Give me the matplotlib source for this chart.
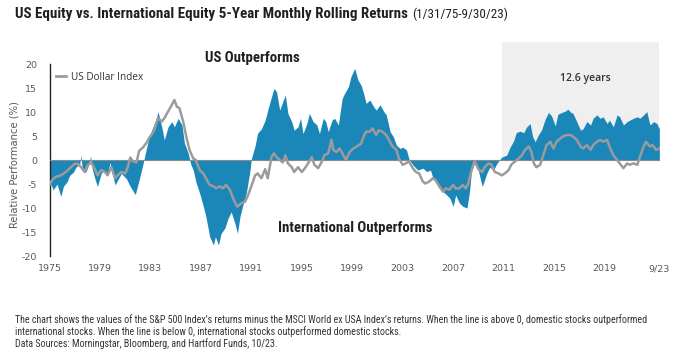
import matplotlib
matplotlib.use("Agg")
import matplotlib.pyplot as plt
from matplotlib.lines import Line2D
from matplotlib import font_manager

# ---------------- data ----------------
rel_years = [
    1975.0, 1975.3, 1975.6, 1975.9, 1976.1, 1976.4, 1976.6, 1976.9, 1977.1, 1977.4,
    1977.5, 1977.6, 1977.9, 1978.1, 1978.25, 1978.4, 1978.6, 1978.8, 1979.1, 1979.3,
    1979.6, 1979.8, 1979.9, 1980.2, 1980.4, 1980.7, 1981.1, 1981.4, 1981.8, 1982.1,
    1982.3, 1982.5, 1982.7, 1982.9, 1983.2, 1983.45, 1983.6, 1983.9, 1984.1, 1984.4,
    1984.7, 1984.9, 1985.2, 1985.5, 1985.7, 1986.0, 1986.2, 1986.4, 1986.6, 1986.9,
    1987.2, 1987.4, 1987.7, 1988.0, 1988.15, 1988.4, 1988.6, 1988.9, 1989.15, 1989.4,
    1989.7, 1989.9, 1990.1, 1990.3, 1990.6, 1990.9, 1991.0, 1991.3, 1991.5, 1991.8,
    1992.1, 1992.3, 1992.6, 1992.8, 1993.0, 1993.25, 1993.5, 1993.7, 1993.9, 1994.2,
    1994.4, 1994.7, 1994.9, 1995.1, 1995.4, 1995.6, 1995.9, 1996.2, 1996.4, 1996.7,
    1996.9, 1997.1, 1997.4, 1997.6, 1997.9, 1998.2, 1998.4, 1998.7, 1998.9, 1999.2,
    1999.45, 1999.7, 1999.9, 2000.1, 2000.4, 2000.7, 2000.9, 2001.2, 2001.5, 2001.7,
    2002.0, 2002.25, 2002.5, 2002.8, 2003.0, 2003.3, 2003.5, 2003.8, 2004.2, 2004.6,
    2004.9, 2005.2, 2005.4, 2005.7, 2006.0, 2006.2, 2006.5, 2006.75, 2007.0, 2007.2,
    2007.5, 2007.8, 2008.1, 2008.3, 2008.45, 2008.7, 2009.0, 2009.3, 2009.45, 2009.65,
    2009.9, 2010.2, 2010.45, 2010.7, 2010.85, 2011.25, 2011.5, 2011.8, 2012.0, 2012.3,
    2012.6, 2012.8, 2013.1, 2013.3, 2013.5, 2013.75, 2014.0, 2014.3, 2014.55, 2014.8,
    2015.1, 2015.3, 2015.6, 2015.9, 2016.1, 2016.3, 2016.5, 2016.8, 2017.1, 2017.3,
    2017.6, 2017.9, 2018.1, 2018.4, 2018.65, 2018.9, 2019.2, 2019.4, 2019.7, 2020.0,
    2020.2, 2020.5, 2020.8, 2021.0, 2021.3, 2021.6, 2021.8, 2022.1, 2022.35, 2022.6,
    2022.9, 2023.15, 2023.35,
]
rel_values = [
    -4.5, -6.2, -5.0, -7.6, -5.5, -4.5, -3.2, -2.5, -1.5, -0.8,
    1.0, -2.2, -2.5, -1.0, 0.8, -2.0, -3.9, -5.5, -2.8, -2.1,
    -3.2, -0.5, -2.0, -5.2, -4.2, -2.8, -3.9, -5.5, -7.2, -4.2,
    -2.1, 0.2, 2.6, 4.8, 6.9, 8.5, 10.1, 6.9, 4.2, 6.9,
    8.0, 6.9, 8.7, 7.3, 3.5, 1.4, -0.9, -2.1, -4.5, -6.9,
    -9.7, -11.8, -16.0, -17.7, -16.0, -17.7, -15.3, -14.2, -12.2, -10.8,
    -13.2, -15.3, -11.8, -9.7, -6.9, -2.1, 0.2, 3.0, 5.6, 6.5,
    8.3, 10.4, 13.2, 14.9, 14.2, 10.4, 12.2, 13.5, 9.7, 8.0,
    6.2, 6.9, 8.7, 5.5, 7.6, 9.7, 8.0, 7.3, 5.5, 8.7,
    8.0, 5.9, 8.3, 8.7, 7.3, 12.8, 13.9, 15.3, 17.4, 19.1,
    16.7, 15.6, 13.9, 11.8, 12.5, 11.1, 10.4, 11.5, 10.1, 9.4,
    5.9, 4.9, 3.1, 2.4, 2.7, 2.1, 0.2, -1.0, -2.1, -1.7,
    -2.4, -2.1, -3.8, -4.5, -5.5, -6.6, -7.3, -8.0, -9.7, -7.3,
    -9.0, -9.7, -10.0, -6.5, -2.5, -0.5, -2.2, -5.5, -4.5, -2.9,
    -1.5, -2.1, -0.8, 0.1, 0.6, 1.0, 2.6, 4.0, 5.7, 6.0,
    5.7, 6.8, 7.6, 4.9, 3.8, 5.2, 6.2, 8.5, 9.9, 9.2,
    7.1, 9.5, 9.9, 10.2, 10.6, 10.0, 9.7, 8.0, 6.2, 6.5,
    8.0, 7.3, 8.7, 9.4, 8.7, 9.0, 7.6, 8.3, 6.9, 9.4,
    9.0, 7.3, 8.0, 8.3, 8.7, 9.0, 8.7, 9.4, 10.1, 7.3,
    8.0, 7.6, 6.5,
]

usd_years = [
    1975.0, 1975.2, 1975.5, 1975.9, 1976.3, 1976.7, 1977.0, 1977.25, 1977.5, 1977.8,
    1978.0, 1978.3, 1978.6, 1978.8, 1979.1, 1979.4, 1979.6, 1979.9, 1980.2, 1980.4,
    1980.7, 1981.0, 1981.2, 1981.4, 1981.6, 1981.9, 1982.1, 1982.4, 1982.7, 1982.9,
    1983.2, 1983.3, 1983.6, 1983.9, 1984.1, 1984.4, 1984.7, 1984.9, 1985.1, 1985.3,
    1985.6, 1985.85, 1986.1, 1986.4, 1986.6, 1986.9, 1987.2, 1987.4, 1987.7, 1988.0,
    1988.2, 1988.5, 1988.75, 1989.0, 1989.3, 1989.5, 1989.8, 1989.9, 1990.2, 1990.5,
    1990.7, 1991.0, 1991.3, 1991.5, 1991.8, 1992.1, 1992.3, 1992.6, 1992.8, 1993.0,
    1993.25, 1993.5, 1993.7, 1993.9, 1994.2, 1994.4, 1994.7, 1995.0, 1995.2, 1995.5,
    1995.8, 1996.0, 1996.3, 1996.6, 1996.8, 1997.1, 1997.35, 1997.5, 1997.75, 1998.0,
    1998.3, 1998.5, 1998.8, 1999.1, 1999.3, 1999.7, 1999.9, 2000.1, 2000.4, 2000.6,
    2000.9, 2001.1, 2001.4, 2001.7, 2001.9, 2002.2, 2002.5, 2002.7, 2003.0, 2003.25,
    2003.5, 2003.8, 2004.05, 2004.3, 2004.6, 2004.8, 2005.1, 2005.4, 2005.6, 2005.9,
    2006.2, 2006.4, 2006.7, 2007.0, 2007.2, 2007.5, 2007.75, 2008.0, 2008.2, 2008.45,
    2008.7, 2009.0, 2009.3, 2009.5, 2009.8, 2010.05, 2010.3, 2010.6, 2010.85, 2011.1,
    2011.4, 2011.6, 2011.9, 2012.2, 2012.45, 2012.7, 2013.0, 2013.2, 2013.4, 2013.6,
    2013.9, 2014.15, 2014.4, 2014.7, 2014.95, 2015.2, 2015.5, 2015.7, 2016.0, 2016.3,
    2016.5, 2016.8, 2017.1, 2017.3, 2017.6, 2017.9, 2018.1, 2018.4, 2018.65, 2018.9,
    2019.2, 2019.4, 2019.7, 2020.0, 2020.2, 2020.5, 2020.8, 2021.0, 2021.3, 2021.6,
    2021.8, 2022.1, 2022.3, 2022.6, 2022.8, 2023.1, 2023.35,
]
usd_values = [
    -5.2, -4.2, -3.5, -3.2, -2.5, -1.5, -0.8, -0.8, -1.5, -2.5,
    -1.2, -0.5, -1.9, -3.2, -2.1, -2.5, -3.2, -1.5, -3.8, -3.2,
    -2.5, -2.8, -1.5, 0.5, -0.2, -0.5, 1.9, 2.6, 3.6, 4.6,
    5.7, 6.2, 8.7, 8.0, 8.7, 10.1, 11.5, 12.5, 11.1, 10.8,
    8.0, 4.8, 2.1, 0.3, 0.0, -2.1, -2.8, -3.8, -5.2, -5.5,
    -5.9, -5.5, -5.9, -5.2, -6.2, -7.6, -9.4, -9.7, -9.0, -8.7,
    -7.6, -5.5, -3.2, -2.8, -3.8, -1.9, -3.8, 0.6, 1.4, 0.6,
    0.0, -0.5, 1.0, -0.7, -1.5, -2.5, -1.5, -2.5, -1.9, -0.7,
    0.6, -1.0, -1.7, -0.3, 1.0, 1.4, 4.2, 2.1, 1.7, 2.4,
    1.0, 0.0, 1.7, 2.4, 2.7, 3.4, 4.9, 5.9, 5.9, 6.6,
    5.2, 6.2, 5.9, 5.2, 4.2, 2.8, 2.1, 0.3, -1.0, -0.7,
    -0.3, -1.7, -2.5, -2.8, -4.5, -4.9, -4.5, -3.8, -4.2, -5.5,
    -6.6, -5.9, -6.2, -5.2, -5.9, -5.9, -5.2, -5.9, -4.9, -2.2,
    -0.2, -1.9, -2.5, -1.5, -0.7, -1.0, -2.5, -2.8, -3.2, -2.8,
    -2.1, -1.0, -0.3, 0.3, 1.0, 2.1, 2.8, 1.7, -0.7, -1.5,
    -1.0, 1.0, 3.1, 3.8, 2.4, 3.8, 4.5, 4.9, 5.2, 5.2,
    4.9, 4.2, 2.8, 2.4, 3.1, 2.1, 3.1, 3.8, 4.2, 3.8,
    4.2, 2.8, 1.0, 0.0, -0.7, -1.7, -0.7, -1.0, -0.7, -1.0,
    0.6, 2.8, 3.8, 2.8, 3.1, 2.1, 2.4,
]
assert len(rel_years) == len(rel_values)
assert len(usd_years) == len(usd_values)

tick_years = [1975, 1979, 1983, 1987, 1991, 1995, 1999, 2003, 2007, 2011, 2015, 2019, 2023.3]
tick_labels = ["1975", "1979", "1983", "1987", "1991", "1995", "1999", "2003", "2007",
               "2011", "2015", "2019", "9/23"]
y_ticks = [-20, -15, -10, -5, 0, 5, 10, 15, 20]
shade_start = 2010.9
shade_end = 2023.35

# ---------------- style ----------------
BLUE = "#1b87b9"
GREY_LINE = "#9b9b9b"
SHADE = "#efefef"
TXT = "#231f20"
TICK = "#595959"
W, H = 678, 351

names = {f.name for f in font_manager.fontManager.ttflist}
cond_candidates = ["Liberation Sans Narrow", "DejaVu Sans Condensed", "Roboto Condensed",
                   "Open Sans Condensed", "Arial Narrow"]
cond = [n for n in cond_candidates if n in names] + ["Roboto", "DejaVu Sans"]
cond = cond[:1] + ["DejaVu Sans"]
note_font = ["Open Sans", "DejaVu Sans"]

fig = plt.figure(figsize=(W / 100, H / 100), dpi=100)
fig.patch.set_facecolor("white")

ax = fig.add_axes([49.5 / W, 1 - 256 / H, (660 - 49.5) / W, (256 - 42.4) / H])
ax.set_xlim(1975, 2023.4)
ax.set_ylim(-20, 24.5)

ax.fill_between([shade_start, shade_end], 0, 24.5, color=SHADE, lw=0, zorder=0)
ax.fill_between(rel_years, 0, rel_values, color=BLUE, lw=0, zorder=2)
ax.plot([rel_years[0], rel_years[-1]], [0, 0], color="#8a8a8a", lw=0.8, zorder=3)
ax.plot(usd_years, usd_values, color=GREY_LINE, lw=1.8, zorder=4,
        solid_joinstyle="round")

for s in ["top", "right", "bottom"]:
    ax.spines[s].set_visible(False)
ax.spines["left"].set_bounds(-20, 20)
ax.spines["left"].set_color("#222222")
ax.spines["left"].set_linewidth(1.0)

ax.set_yticks(y_ticks)
ax.set_yticklabels([str(v) for v in y_ticks])
ax.set_xticks(tick_years)
ax.set_xticklabels(tick_labels)
ax.tick_params(axis="both", length=0, labelsize=6.8, labelcolor=TICK)
ax.tick_params(axis="y", pad=9)
ax.tick_params(axis="x", pad=6)
ax.set_ylabel("Relative Performance (%)", fontsize=7.2, color=TICK, labelpad=4)
ax.yaxis.set_label_coords(-29.5 / (660 - 49.5), (256 - 165) / (256 - 42.4))

t_us = ax.text(1991.07, 21.2, "US Outperforms", ha="center", va="center",
               fontsize=11, fontweight="bold", family=cond, color=TXT, zorder=6)
t_int = ax.text(1999.2, -14.2, "International Outperforms", ha="center", va="center",
                fontsize=11, fontweight="bold", family=cond, color=TXT, zorder=6)
ax.text(2017.5, 17.0, "12.6 years", ha="center", va="center",
        fontsize=7.5, fontweight="semibold", family=note_font,
        color="#333333", zorder=6)

leg = ax.legend([Line2D([], [], color=GREY_LINE, lw=2)], ["US Dollar Index"],
                loc="center left", bbox_to_anchor=((56 - 49.5) / 610.5, (256 - 77) / 213.6),
                frameon=False, handlelength=1.0, handletextpad=0.5, borderpad=0,
                borderaxespad=0, prop={"family": note_font, "size": 7.2})
for t in leg.get_texts():
    t.set_color("#333333")

# ---------------- titles & notes ----------------
t1 = fig.text(15 / W, 1 - 14 / H,
              "US Equity vs. International Equity 5-Year Monthly Rolling Returns",
              ha="left", va="center", fontsize=11, fontweight="bold", family=cond, color=TXT)
t2 = fig.text(410 / W, 1 - 14 / H, "(1/31/75-9/30/23)", ha="left", va="center",
              fontsize=11, family=cond, color=TXT)

n1 = fig.text(15 / W, 1 - 320 / H,
              "The chart shows the values of the S&P 500 Index\u2019s returns minus the MSCI World ex USA Index\u2019s returns. "
              "When the line is above 0, domestic stocks outperformed",
              ha="left", va="center", fontsize=6.3, family=cond, color="#333333")
n2 = fig.text(15 / W, 1 - 332 / H,
              "international stocks. When the line is below 0, international stocks outperformed domestic stocks.",
              ha="left", va="center", fontsize=6.3, family=cond, color="#333333")
n3 = fig.text(15 / W, 1 - 344 / H,
              "Data Sources: Morningstar, Bloomberg, and Hartford Funds, 10/23.",
              ha="left", va="center", fontsize=6.3, family=cond, color="#333333")


def fit(text, target_px):
    fig.canvas.draw()
    w = text.get_window_extent(fig.canvas.get_renderer()).width
    text.set_fontsize(text.get_fontsize() * target_px / w)


fit(t1, 389)
fit(t_us, 95)
fit(t_int, 154)
fit(n1, 637)
n2.set_fontsize(n1.get_fontsize())
n3.set_fontsize(n1.get_fontsize())
fig.canvas.draw()
bb = t1.get_window_extent(fig.canvas.get_renderer())
t2.set_x((bb.x1 + 4) / W)
fit(t2, 96)

fig.savefig("out.png", dpi=100, facecolor="white")
